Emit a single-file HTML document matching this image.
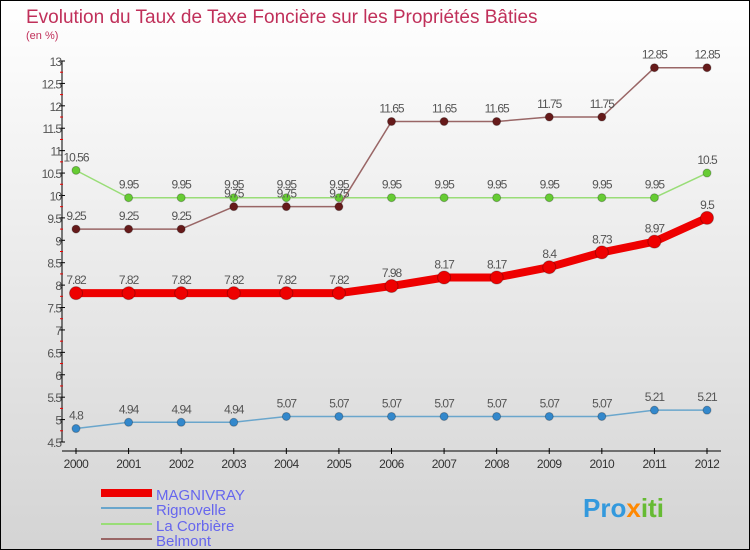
<!DOCTYPE html>
<html><head><meta charset="utf-8"><style>
body{margin:0}
#c{width:748px;height:548px;border:1px solid #000;background:linear-gradient(#fff,#d4d4d4);position:relative;overflow:hidden;font-family:"Liberation Sans",sans-serif}
</style></head><body>
<div id="c">
<svg id="s" width="748" height="548" style="position:absolute;left:0;top:0">
<text x="25" y="22" font-size="19" fill="#c0305a">Evolution du Taux de Taxe Foncière sur les Propriétés Bâties</text>
<text x="25" y="38" font-size="11" fill="#c0305a">(en %)</text>
<g id="ax"></g><g id="ser"></g>
<g>
<rect x="100" y="488" width="51" height="8" fill="#e00"/>
<text x="155" y="499" font-size="15" fill="#6666ee">MAGNIVRAY</text>
<rect x="100" y="506" width="51" height="2" fill="#6aa6cc"/>
<text x="155" y="514" font-size="15" fill="#6666ee">Rignovelle</text>
<rect x="100" y="522" width="51" height="2" fill="#99dd77"/>
<text x="155" y="530" font-size="15" fill="#6666ee">La Corbière</text>
<rect x="100" y="537" width="51" height="2" fill="#996666"/>
<text x="155" y="545" font-size="15" fill="#6666ee">Belmont</text>
</g>
<text x="582" y="516" font-size="26" font-weight="bold"><tspan fill="#3399dd">Pro</tspan><tspan fill="#ff8800">x</tspan><tspan fill="#66bb33">iti</tspan></text>
</svg>
</div>
<script>
const years=[2000,2001,2002,2003,2004,2005,2006,2007,2008,2009,2010,2011,2012];
const magnivray=[7.82,7.82,7.82,7.82,7.82,7.82,7.98,8.17,8.17,8.4,8.73,8.97,9.5];
const rignovelle=[4.8,4.94,4.94,4.94,5.07,5.07,5.07,5.07,5.07,5.07,5.07,5.21,5.21];
const corbiere=[10.56,9.95,9.95,9.95,9.95,9.95,9.95,9.95,9.95,9.95,9.95,9.95,10.5];
const belmont=[9.25,9.25,9.25,9.75,9.75,9.75,11.65,11.65,11.65,11.75,11.75,12.85,12.85];
const yTicks=[4.5,5,5.5,6,6.5,7,7.5,8,8.5,9,9.5,10,10.5,11,11.5,12,12.5,13];
const NS="http://www.w3.org/2000/svg";
const X=i=>75+i*(706-75)/(years.length-1);
const Y=v=>60+(13-v)*(441-60)/8.5;
function mk(t,a,p){const e=document.createElementNS(NS,t);for(const k in a)e.setAttribute(k,a[k]);p.appendChild(e);return e;}
const ax=document.getElementById('ax'),ser=document.getElementById('ser');
let yl=mk('line',{x1:61,y1:Y(13),x2:61,y2:Y(4.5),stroke:'#000'},ax);


yTicks.forEach(v=>{
 mk('line',{x1:58,x2:64,y1:Y(v),y2:Y(v),stroke:'#000'},ax);
 if(v<13) mk('line',{x1:59,x2:62,y1:Y(v+0.25),y2:Y(v+0.25),stroke:'#e00'},ax);
 let t=mk('text',{x:60,y:Y(v)+5,'text-anchor':'end','font-size':12,fill:'#555','letter-spacing':'-1'},ax);t.textContent=v;
 
 
});
let xl=mk('line',{x1:61,y1:450,x2:720,y2:450,stroke:'#000'},ax);


years.forEach((y,i)=>{
 mk('line',{x1:X(i),x2:X(i),y1:447,y2:453,stroke:'#000'},ax);
 let t=mk('text',{x:X(i),y:467,'text-anchor':'middle','font-size':12,fill:'#333','letter-spacing':'-0.5'},ax);t.textContent=y;
 
 
});
function series(d,name,col,dot,w,r){
 const g=mk('g',{},ser);
 
 
 mk('polyline',{points:d.map((v,i)=>X(i)+','+Y(v)).join(' '),fill:'none',stroke:col,'stroke-width':w,'stroke-linejoin':'round'},g);
 d.forEach((v,i)=>{
  let c=mk('circle',{cx:X(i),cy:Y(v),r:r,fill:dot,stroke:'rgba(0,0,0,0.25)'},g);
  
  
  let t=mk('text',{x:X(i),y:Y(v)-9,'text-anchor':'middle','font-size':12,fill:'#555','letter-spacing':'-1'},g);t.textContent=v;
  
  
 });
}
series(corbiere,'la-corbiere','#99dd77','#66cc33',1.5,4);
series(belmont,'belmont','#996666','#661a1a',1.5,4);
series(rignovelle,'rignovelle','#6aa6cc','#3388cc',1.5,4);
series(magnivray,'magnivray','#ee0000','#ee0000',8,6.5);
</script>
</body></html>
